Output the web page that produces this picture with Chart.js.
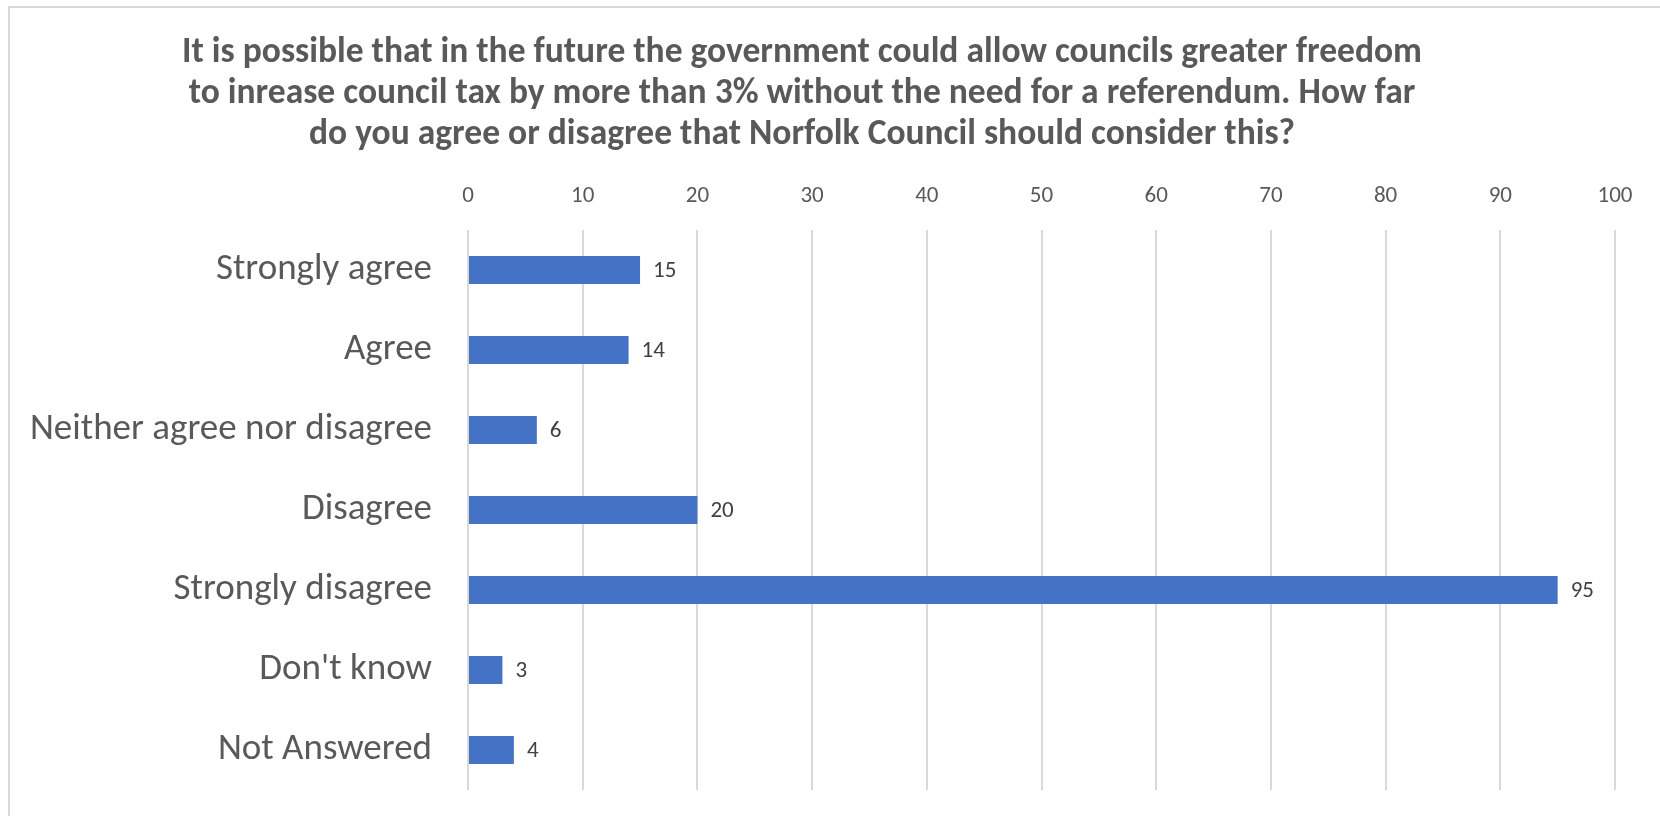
<!DOCTYPE html>
<html>
<head>
<meta charset="utf-8">
<script src="https://cdn.jsdelivr.net/npm/chart.js@4.4.1/dist/chart.umd.min.js"></script>
<style>
    html, body { margin: 0; padding: 0; background: #fff; }
    .wrap { position: relative; width: 1660px; height: 816px; }
    .frame {
        position: absolute; left: 8px; top: 6px; right: -2px; bottom: -2px;
        border: 2px solid #d9d9d9; pointer-events: none;
    }
    canvas { display: block; }
</style>
</head>
<body>
<div class="wrap">
    <canvas id="chart" width="1660" height="816"></canvas>
    <div class="frame"></div>
</div>
<script>
// 选项和回答人数
const CATEGORIES = [
    'Strongly agree', 'Agree', 'Neither agree nor disagree',
    'Disagree', 'Strongly disagree', "Don't know", 'Not Answered'
];
const RESPONSES = [15, 14, 6, 20, 95, 3, 4];

const TITLE_LINES = [
    'It is possible that in the future the government could allow councils greater freedom',
    'to inrease council tax by more than 3% without the need for a referendum. How far',
    'do you agree or disagree that Norfolk Council should consider this?'
];

const AXIS_MIN = 0;
const AXIS_MAX = 100;
const AXIS_STEP = 10;

const FONT = 'Carlito, Calibri, Lato, "Open Sans", sans-serif';
const BAR_COLOR = '#4472C4';
const GRID_COLOR = '#d9d9d9';

// 标题：三行居中，自己画
const titlePlugin = {
    id: 'blockTitle',
    afterDraw(chart) {
        const ctx = chart.ctx;
        ctx.save();
        ctx.font = 'bold 35.5px ' + FONT;
        ctx.fillStyle = '#595959';
        ctx.textAlign = 'center';
        ctx.textBaseline = 'middle';
        TITLE_LINES.forEach((line, i) => {
            ctx.fillText(line, 802, 53 + i * 41);
        });
        ctx.restore();
    }
};

// 条形末端的数值标签
const valueLabels = {
    id: 'valueLabels',
    afterDatasetsDraw(chart) {
        const ctx = chart.ctx;
        const meta = chart.getDatasetMeta(0);
        ctx.save();
        ctx.font = '23px ' + FONT;
        ctx.fillStyle = '#404040';
        ctx.textAlign = 'left';
        ctx.textBaseline = 'middle';
        meta.data.forEach((bar, i) => {
            ctx.fillText(String(RESPONSES[i]), bar.x + 13, bar.y + 1);
        });
        ctx.restore();
    }
};

new Chart(document.getElementById('chart'), {
    type: 'bar',
    data: {
        labels: CATEGORIES,
        datasets: [{
            data: RESPONSES,
            backgroundColor: BAR_COLOR,
            borderWidth: 0,
            categoryPercentage: 1,
            barPercentage: 0.35
        }]
    },
    options: {
        indexAxis: 'y',
        responsive: false,
        animation: false,
        layout: {
            padding: { top: 160, right: 45, bottom: 26, left: 10 }
        },
        scales: {
            x: {
                position: 'top',
                min: AXIS_MIN,
                max: AXIS_MAX,
                ticks: {
                    stepSize: AXIS_STEP,
                    color: '#595959',
                    font: { family: FONT, size: 23 },
                    padding: 20
                },
                grid: { color: GRID_COLOR, lineWidth: 2, drawTicks: false },
                border: { display: false },
                afterFit(scale) {
                    scale.height = 70;
                    scale.paddingLeft = 0;
                    scale.paddingRight = 0;
                }
            },
            y: {
                ticks: {
                    color: '#595959',
                    font: { family: FONT, size: 37 },
                    padding: 28
                },
                grid: { display: false },
                border: { display: false },
                afterFit(scale) {
                    scale.width = 458;
                    scale.paddingTop = 0;
                    scale.paddingBottom = 0;
                }
            }
        },
        plugins: {
            legend: { display: false },
            tooltip: { enabled: false },
            title: { display: false }
        }
    },
    plugins: [titlePlugin, valueLabels]
});
</script>
</body>
</html>
